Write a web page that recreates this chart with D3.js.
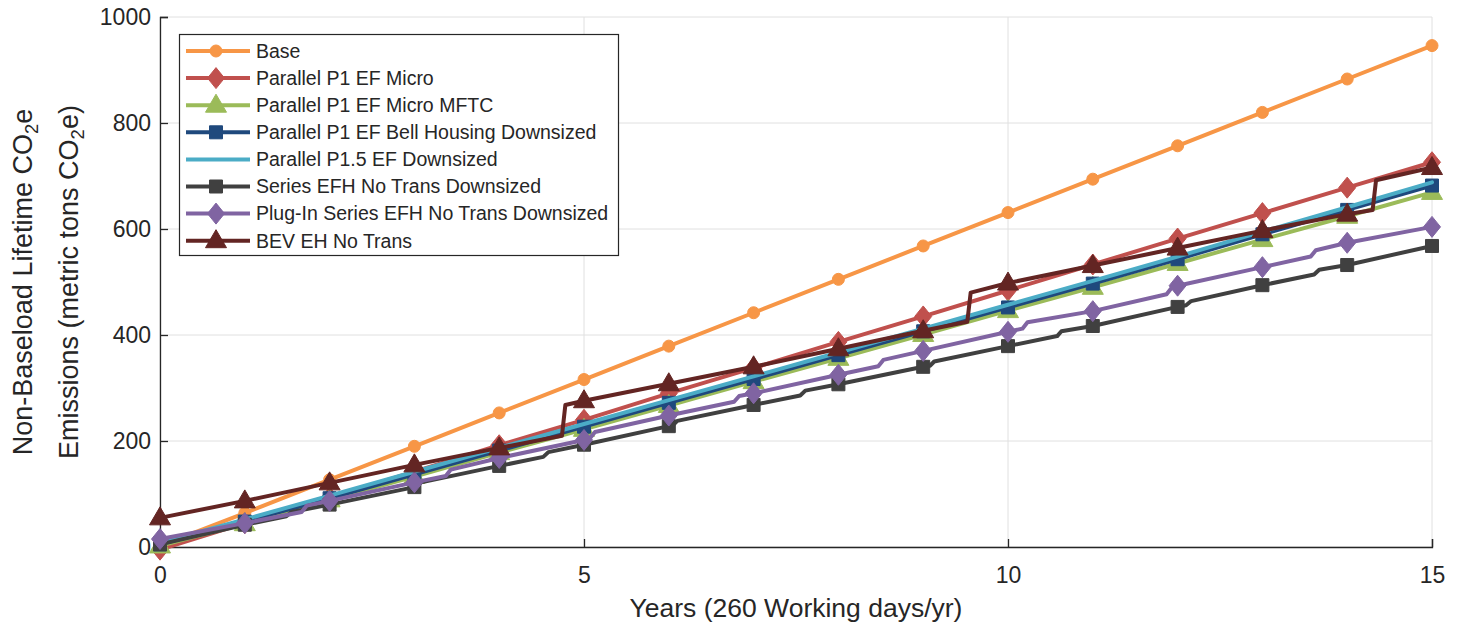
<!DOCTYPE html>
<html>
<head>
<meta charset="utf-8">
<script src="https://cdn.jsdelivr.net/npm/d3@7"></script>
<style>
  html, body { margin: 0; padding: 0; background: #fff; }
  svg { display: block; font-family: "Liberation Sans", Arial, Helvetica, sans-serif; }
</style>
</head>
<body>
<svg id="chart" width="1461" height="626"></svg>
<script>
// ---------- DATA ----------
const seriesNames = [
  "Base",
  "Parallel P1 EF Micro",
  "Parallel P1 EF Micro MFTC",
  "Parallel P1 EF Bell Housing Downsized",
  "Parallel P1.5 EF Downsized",
  "Series EFH No Trans Downsized",
  "Plug-In Series EFH No Trans Downsized",
  "BEV EH No Trans"
];
const seriesColors = ["#F79646", "#C0504D", "#9BBB59", "#1F497D", "#4BACC6", "#404040", "#8064A2", "#632523"];
const seriesMarkers = ["circle", "diamond", "triangle", "square", "none", "square", "diamond", "triangle"];

const yearsInt = [0, 1, 2, 3, 4, 5, 6, 7, 8, 9, 10, 11, 12, 13, 14, 15];

const baseX = yearsInt;
const baseY = [2, 64, 127, 190, 253, 316, 379, 442, 505, 568, 631, 694, 757, 820, 883, 946];

const microX = yearsInt;
const microY = [-5, 45, 93, 142, 192, 240, 290, 338, 387, 435, 484, 533, 582, 630, 678, 726];

const mftcX = yearsInt;
const mftcY = [2, 44, 89, 133, 178, 222, 267, 312, 356, 401, 446, 490, 535, 580, 624, 669];

const bellX = yearsInt;
const bellY = [5, 48, 92, 137, 182, 227, 272, 317, 362, 407, 452, 497, 543, 590, 636, 682];

const p15X = yearsInt;
const p15Y = [8, 52, 97, 142, 187, 232, 277, 322, 367, 412, 457, 502, 548, 595, 641, 688];

const seriesEfhX = [0, 1, 1.49, 1.55, 2, 3, 3.03, 3.08, 4, 4.52, 4.58, 5, 6, 6.05, 6.1, 7, 7.55, 7.61, 8, 9, 9.08, 9.13, 10, 10.58, 10.63, 11, 12, 12.1, 12.16, 13, 13.61, 13.67, 14, 15];
const seriesEfhY = [5, 42, 58, 66, 80, 113, 114, 122, 153, 170, 179, 193, 228, 230, 238, 268, 286, 295, 307, 340, 342, 350, 379, 398, 407, 417, 453, 456, 464, 494, 514, 523, 532, 568];

const pluginX = [0, 1, 1.67, 1.73, 2, 3, 3.37, 3.43, 4, 5, 5.07, 5.13, 6, 6.77, 6.83, 7, 8, 8.47, 8.53, 9, 10, 10.17, 10.23, 11, 11.87, 11.93, 12, 13, 13.57, 13.63, 14, 15];
const pluginY = [15, 45, 66, 78, 87, 122, 134, 146, 168, 202, 205, 217, 248, 274, 285, 290, 325, 341, 353, 370, 406, 412, 424, 445, 477, 489, 493, 528, 548, 560, 574, 604];

const bevX = [0, 1, 2, 3, 4, 4.74, 4.78, 5, 6, 7, 8, 9, 9.52, 9.56, 10, 11, 12, 13, 14, 14.3, 14.34, 15];
const bevY = [55, 87, 121, 155, 187, 210, 268, 276, 308, 340, 374, 408, 425, 480, 498, 531, 564, 597, 628, 636, 692, 716];

const xTicks = [0, 5, 10, 15];
const yTicks = [0, 200, 400, 600, 800, 1000];

const seriesX = [baseX, microX, mftcX, bellX, p15X, seriesEfhX, pluginX, bevX];
const seriesY = [baseY, microY, mftcY, bellY, p15Y, seriesEfhY, pluginY, bevY];

// ---------- LAYOUT ----------
const svg = d3.select("#chart");
const pLeft = 160, pRight = 1432, pTop = 17, pBottom = 547;
const x = d3.scaleLinear().domain([0, 15]).range([pLeft, pRight]);
const y = d3.scaleLinear().domain([0, 1000]).range([pBottom, pTop]);

// grid
const grid = svg.append("g");
grid.selectAll("line.gx").data(xTicks).join("line")
  .attr("x1", d => x(d)).attr("x2", d => x(d)).attr("y1", pTop).attr("y2", pBottom)
  .attr("stroke", "#e0e0e0").attr("stroke-width", 1);
grid.selectAll("line.gy").data(yTicks).join("line")
  .attr("x1", pLeft).attr("x2", pRight).attr("y1", d => y(d)).attr("y2", d => y(d))
  .attr("stroke", "#e0e0e0").attr("stroke-width", 1);

// axes (MATLAB style: ticks inside)
const axisColor = "#262626";
const xAxis = d3.axisBottom(x).tickValues(xTicks).tickSize(-8).tickPadding(28).tickFormat(d3.format("d"));
const yAxis = d3.axisLeft(y).tickValues(yTicks).tickSize(-8).tickPadding(9).tickFormat(d3.format("d"));

const gx = svg.append("g").attr("transform", `translate(0,${pBottom})`).call(xAxis);
const gy = svg.append("g").attr("transform", `translate(${pLeft},0)`).call(yAxis);
[gx, gy].forEach(g => {
  g.select(".domain").attr("stroke", axisColor).attr("stroke-width", 1.3);
  g.selectAll(".tick line").attr("stroke", axisColor).attr("stroke-width", 1.3);
  g.selectAll(".tick text").attr("fill", "#262626").attr("font-size", 23)
    .attr("font-family", "'Liberation Sans', Arial, sans-serif");
});
gx.selectAll(".tick text").attr("dy", "0.35em");

// axis labels
svg.append("text").attr("x", (pLeft + pRight) / 2).attr("y", 617)
  .attr("text-anchor", "middle").attr("font-size", 26.5).attr("fill", "#262626")
  .text("Years (260 Working days/yr)");

function yLabel(xpos, prefix) {
  const t = svg.append("text")
    .attr("transform", `translate(${xpos},${(pTop + pBottom) / 2}) rotate(-90)`)
    .attr("text-anchor", "middle").attr("font-size", 27).attr("fill", "#262626");
  t.append("tspan").text(prefix + "CO");
  t.append("tspan").attr("font-size", 18.5).attr("dy", 6).text("2");
  return t;
}
const yl1 = yLabel(32, "Non-Baseload Lifetime ");
yl1.append("tspan").attr("dy", -6).text("e");
const yl2 = yLabel(78, "Emissions (metric tons ");
yl2.append("tspan").attr("dy", -6).text("e)");

// ---------- MARKERS ----------
function markerPath(type) {
  switch (type) {
    case "circle": return d3.symbol().type(d3.symbolCircle).size(Math.PI * 36)();
    case "diamond": return "M0,-10.5L8.5,0L0,10.5L-8.5,0Z";
    case "triangle": return "M0,-11L10.5,7L-10.5,7Z";
    case "square": return "M-6.5,-6.5H6.5V6.5H-6.5Z";
    default: return null;
  }
}

// ---------- SERIES ----------
const line = d3.line().x(d => x(d[0])).y(d => y(d[1]));
const plot = svg.append("g");
seriesNames.forEach((name, i) => {
  const pts = seriesX[i].map((xv, j) => [xv, seriesY[i][j]]);
  const g = plot.append("g");
  g.append("path").datum(pts).attr("d", line)
    .attr("fill", "none").attr("stroke", seriesColors[i]).attr("stroke-width", 4)
    .attr("stroke-linejoin", "round").attr("stroke-linecap", "round");
  const mp = markerPath(seriesMarkers[i]);
  if (mp) {
    g.selectAll("path.m").data(pts.filter(p => Number.isInteger(p[0]))).join("path")
      .attr("class", "m")
      .attr("transform", d => `translate(${x(d[0])},${y(d[1])})`)
      .attr("d", mp).attr("fill", seriesColors[i]).attr("stroke", seriesColors[i]).attr("stroke-width", 1);
  }
});

// ---------- LEGEND ----------
const lg = svg.append("g");
lg.append("rect").attr("x", 179.5).attr("y", 34.5).attr("width", 439).attr("height", 221)
  .attr("fill", "#fff").attr("stroke", axisColor).attr("stroke-width", 1.2);
seriesNames.forEach((name, i) => {
  const cy = 51 + i * 27.1;
  lg.append("line").attr("x1", 186).attr("x2", 250).attr("y1", cy).attr("y2", cy)
    .attr("stroke", seriesColors[i]).attr("stroke-width", 4);
  const mp = markerPath(seriesMarkers[i]);
  if (mp) {
    lg.append("path").attr("d", mp).attr("transform", `translate(216,${cy})`)
      .attr("fill", seriesColors[i]).attr("stroke", seriesColors[i]);
  }
  lg.append("text").attr("x", 256).attr("y", cy).attr("dy", "0.35em")
    .attr("font-size", 19.5).attr("fill", "#262626").text(name);
});
</script>
</body>
</html>
